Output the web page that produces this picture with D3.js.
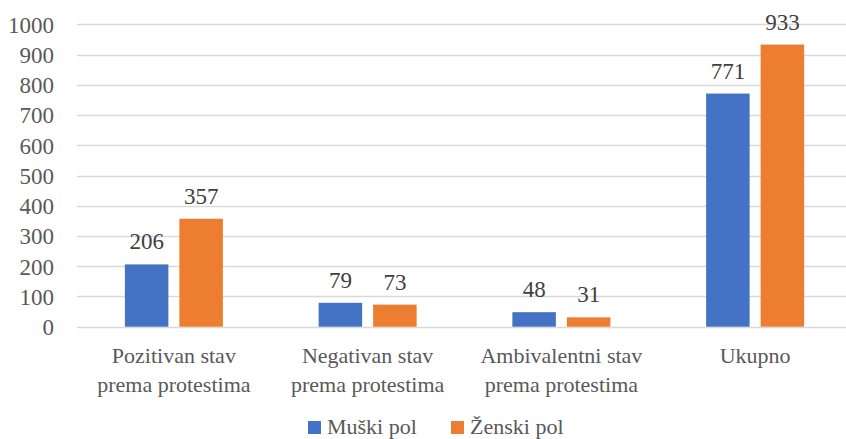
<!DOCTYPE html>
<html><head><meta charset="utf-8">
<script src="https://cdn.jsdelivr.net/npm/d3@7/dist/d3.min.js"></script>
<style>svg text, svg tspan { font-family: "Liberation Serif", "Times New Roman", serif !important; }</style>
</head><body style="margin:0"><svg id="c" width="846" height="439" font-family="Liberation Serif"></svg>
<script>
const categories = [["Pozitivan stav","prema protestima"],["Negativan stav","prema protestima"],["Ambivalentni stav","prema protestima"],["Ukupno"]];
const seriesNames = ["Muški pol","Ženski pol"];
const muski = [206,79,48,771];
const zenski = [357,73,31,933];
const yTicks = [0,100,200,300,400,500,600,700,800,900,1000];
const colors = ["#4472C4","#ED7D31"];

const svg = d3.select("#c");
const pLeft = 77, pRight = 852, pTop = 24.3, pBottom = 326.7;
const x = d3.scaleBand().domain(d3.range(categories.length)).range([pLeft,pRight]).paddingInner(0).paddingOuter(0);
const y = d3.scaleLinear().domain([0,1000]).range([pBottom,pTop]);
const barW = 43.5, gap = 11;
const xs = d3.scaleBand().domain([0,1]).range([0, barW*2+gap]).paddingInner(gap/(barW+gap));

// gridlines
svg.append("g").selectAll("line").data(yTicks).join("line")
  .attr("x1",pLeft).attr("x2",pRight)
  .attr("y1",d=>Math.round(y(d))+0.5).attr("y2",d=>Math.round(y(d))+0.5)
  .attr("stroke","#D9D9D9").attr("stroke-width",1.3);

// y axis labels
const yAxis = d3.axisLeft(y).tickValues(yTicks).tickFormat(d3.format("d")).tickSize(0).tickPadding(0);
const ga = svg.append("g").attr("transform","translate(54,0)").call(yAxis);
ga.attr("font-family","Liberation Serif").attr("font-size",23);
ga.select(".domain").remove();
ga.selectAll("text").attr("fill","#595959").attr("dy","0.34em");

const series = [muski, zenski];
series.forEach((vals,si)=>{
  const g = svg.append("g");
  g.selectAll("rect").data(vals).join("rect")
    .attr("x",(d,i)=>x(i)+x.bandwidth()/2-(barW*2+gap)/2+xs(si))
    .attr("width",xs.bandwidth())
    .attr("y",d=>y(d)).attr("height",d=>pBottom-y(d))
    .attr("fill",colors[si]);
  g.selectAll("text").data(vals).join("text")
    .attr("x",(d,i)=>x(i)+x.bandwidth()/2-(barW*2+gap)/2+xs(si)+xs.bandwidth()/2)
    .attr("y",d=>y(d)-15)
    .attr("text-anchor","middle").attr("font-family","Liberation Serif").attr("font-size",23).attr("fill","#404040")
    .text(d=>d);
});

// category labels
const cg = svg.append("g");
categories.forEach((lines,i)=>{
  const t = cg.append("text").attr("text-anchor","middle").attr("font-family","Liberation Serif").attr("font-size",22).attr("fill","#595959");
  lines.forEach((l,j)=>t.append("tspan").attr("x",x(i)+x.bandwidth()/2).attr("y",363+j*29).text(l));
});

// legend
const legX = [308,451];
const lg = svg.append("g");
seriesNames.forEach((n,i)=>{
  lg.append("rect").attr("x",legX[i]).attr("y",421).attr("width",13).attr("height",13).attr("fill",colors[i]);
  lg.append("text").attr("x",legX[i]+19).attr("y",434).attr("font-family","Liberation Serif").attr("font-size",22).attr("fill","#595959").text(n);
});
</script></body></html>
